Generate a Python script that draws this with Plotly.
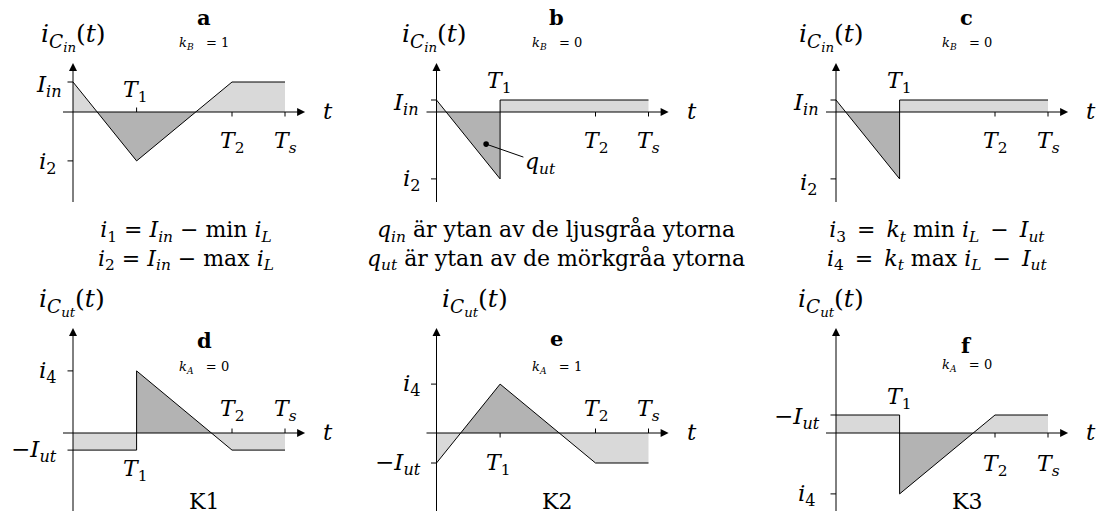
import plotly.graph_objects as go

# Switching instants, as fractions of the switching period Ts
T1, T2, TS = 0.30, 0.75, 1.00

# Input capacitor current i_Cin(t) for the three converter cases
a_t = [0, T1, T2, TS]
a_i = [1.00, -1.63, 1.00, 1.00]
b_t = [0, T1, T1, TS]
b_i = [0.40, -2.23, 0.40, 0.40]
c_t = [0, T1, T1, TS]
c_i = [0.40, -2.23, 0.40, 0.40]

# Output capacitor current i_Cut(t) for the three converter cases
d_t = [0, T1, T1, T2, TS]
d_i = [-0.57, -0.57, 2.07, -0.57, -0.57]
e_t = [0, T1, T2, TS]
e_i = [-1.00, 1.63, -1.00, -1.00]
f_t = [0, T1, T1, T2, TS]
f_i = [0.60, 0.60, -2.03, 0.60, 0.60]

# Figure geometry
W, H = 1101, 525
PX_T = 212.0          # pixels per switching period
PX_I = 30.0           # pixels per current unit
LIGHT = "#d9d9d9"
DARK = "#b3b3b3"
INK = "black"
SERIF = "DejaVu Serif"
FS = 22               # main text size

TOP_ROW = dict(oy=112, box_y=(0, 215), ax_lo=-3.0, ax_hi=1.63)
BOT_ROW = dict(oy=433, box_y=(215, 525), ax_lo=-2.6, ax_hi=3.5)
COLS = [dict(ox=73, box_x=(0, 367)), dict(ox=436.5, box_x=(367, 734)),
        dict(ox=836, box_x=(734, 1101))]
NB = "\u00a0"
EN = "\u2002"


def it(s):
    return "<i>" + s + "</i>"


def sub(s):
    return "<sub>" + s + "</sub>"


def lowered(s, scale, shift):
    return ('<span style="font-size:%d%%;baseline-shift:-%.2fem">%s</span>'
            % (scale, shift, s))


def cap_current(which):
    inner = lowered(it(which), 72, 0.32)
    return it("i") + lowered(it("C") + inner, 74, 0.30) + "(" + it("t") + ")"


Y_IN = cap_current("in")
Y_UT = cap_current("ut")
I_IN = it("I") + sub(it("in"))
MI_UT = "\u2212" + it("I") + sub(it("ut"))
I2 = it("i") + sub("2")
I4 = it("i") + sub("4")
T1L = it("T") + sub("1")
T2L = it("T") + sub("2")
TSL = it("T") + sub(it("s"))


def kcase(letter, val):
    return it("k") + sub(it(letter)) + NB * 3 + "=" + NB + val


# levels: (label, value, xshift, yshift); ticks: (t, direction)
# time labels: (label, t, xshift, yshift)
panels = [
    dict(t=a_t, i=a_i, row=TOP_ROW, col=COLS[0], pos=LIGHT, neg=DARK,
         title="a", k=kcase("B", "1"), tx=0.62,
         ty=(46, 20), ylab=Y_IN, ylab_dx=0,
         levels=[(I_IN, a_i[0], -9, -4), (I2, a_i[1], -14, -2)],
         ticks=[(T1, 1), (T2, -1), (TS, -1)],
         tlabels=[(T1L, T1, -2, 21), (T2L, T2, 0, -30), (TSL, TS, 0, -30)],
         klab=None),
    dict(t=b_t, i=b_i, row=TOP_ROW, col=COLS[1], pos=LIGHT, neg=DARK,
         title="b", k=kcase("B", "0"), tx=0.567,
         ty=(46, 20), ylab=Y_IN, ylab_dx=-2,
         levels=[(I_IN, b_i[0], -16, -4), (I2, b_i[1], -14, -1)],
         ticks=[(T2, -1), (TS, -1)],
         tlabels=[(T1L, T1, -1, 30), (T2L, T2, 0, -30), (TSL, TS, 0, -30)],
         klab=None),
    dict(t=c_t, i=c_i, row=TOP_ROW, col=COLS[2], pos=LIGHT, neg=DARK,
         title="c", k=kcase("B", "0"), tx=0.617,
         ty=(46, 20), ylab=Y_IN, ylab_dx=-5,
         levels=[(I_IN, c_i[0], -15, -4), (I2, c_i[1], -16, -5)],
         ticks=[(T2, -1), (TS, -1)],
         tlabels=[(T1L, T1, -1, 30), (T2L, T2, 0, -30), (TSL, TS, 0, -30)],
         klab=None),
    dict(t=d_t, i=d_i, row=BOT_ROW, col=COLS[0], pos=DARK, neg=LIGHT,
         title="d", k=kcase("A", "0"), tx=0.618,
         ty=(-12, -39), ylab=Y_UT, ylab_dx=-1,
         levels=[(I4, d_i[2], -14, -1), (MI_UT, d_i[0], -14, -1)],
         ticks=[(T2, 1), (TS, 1)],
         tlabels=[(T1L, T1, -2, -37), (T2L, T2, 0, 23), (TSL, TS, 0, 23)],
         klab="K1"),
    dict(t=e_t, i=e_i, row=BOT_ROW, col=COLS[1], pos=DARK, neg=LIGHT,
         title="e", k=kcase("A", "1"), tx=0.567,
         ty=(-10, -39), ylab=Y_UT, ylab_dx=38,
         levels=[(I4, e_i[1], -14, -1), (MI_UT, e_i[0], -14, -1)],
         ticks=[(T1, -1), (T2, 1), (TS, 1)],
         tlabels=[(T1L, T1, -2, -31), (T2L, T2, 0, 23), (TSL, TS, 0, 23)],
         klab="K2"),
    dict(t=f_t, i=f_i, row=BOT_ROW, col=COLS[2], pos=LIGHT, neg=DARK,
         title="f", k=kcase("A", "0"), tx=0.617,
         ty=(-17, -37), ylab=Y_UT, ylab_dx=-5,
         levels=[(MI_UT, f_i[0], -14, -3), (I4, f_i[2], -18, -1)],
         ticks=[(T2, -1), (TS, -1)],
         tlabels=[(T1L, T1, -1, 35), (T2L, T2, 0, -32), (TSL, TS, 0, -32)],
         klab="K3"),
]


def with_crossings(ts, vs):
    """Insert the zero crossings so the area can be split by sign."""
    pts = []
    for k in range(len(ts)):
        if k > 0:
            t0, v0, t1, v1 = ts[k - 1], vs[k - 1], ts[k], vs[k]
            if v0 * v1 < 0:
                pts.append((t0 + (t1 - t0) * v0 / (v0 - v1), 0.0))
        pts.append((ts[k], vs[k]))
    return pts


fig = go.Figure()
annotations = []
layout = {}
T_TIP = 1.095
T_TAIL = -10 / PX_T

for n, p in enumerate(panels, start=1):
    sfx = "" if n == 1 else str(n)
    xr, yr = "x" + sfx, "y" + sfx
    ox, (bx0, bx1) = p["col"]["ox"], p["col"]["box_x"]
    oy, (by0, by1) = p["row"]["oy"], p["row"]["box_y"]
    layout["xaxis" + sfx] = dict(
        domain=[bx0 / W, bx1 / W], anchor=yr, visible=False, fixedrange=True,
        range=[(bx0 - ox) / PX_T, (bx1 - ox) / PX_T])
    layout["yaxis" + sfx] = dict(
        domain=[1 - by1 / H, 1 - by0 / H], anchor=xr, visible=False,
        fixedrange=True, range=[(oy - by1) / PX_I, (oy - by0) / PX_I])
    common = dict(hoverinfo="skip", showlegend=False, xaxis=xr, yaxis=yr)

    # shaded charge areas
    pts = with_crossings(p["t"], p["i"])
    xs = [q[0] for q in pts]
    for sign, color in ((1, p["pos"]), (-1, p["neg"])):
        ys = [max(q[1], 0) if sign > 0 else min(q[1], 0) for q in pts]
        fig.add_trace(go.Scatter(x=xs, y=ys, mode="lines", fill="tozeroy",
                                 fillcolor=color, line=dict(width=0),
                                 **common))

    lo, hi = p["row"]["ax_lo"], p["row"]["ax_hi"]
    # coordinate axes with arrow heads
    fig.add_trace(go.Scatter(x=[T_TAIL, T_TIP - 3 / PX_T, None, 0, 0],
                             y=[0, 0, None, lo, hi - 3 / PX_I], mode="lines",
                             line=dict(color=INK, width=1), **common))
    fig.add_trace(go.Scatter(x=[T_TIP, 0], y=[0, hi], mode="markers",
                             marker=dict(symbol=["arrow-right", "arrow-up"],
                                         size=8, color=INK,
                                         line=dict(width=0)),
                             **common))

    # tick marks on the axes
    tx_, ty_ = [], []
    for tv, d in p["ticks"]:
        tx_ += [tv, tv, None]
        ty_ += [0, d * 4.5 / PX_I, None]
    for _, lv, _, _ in p["levels"]:
        tx_ += [-5.5 / PX_T, 0, None]
        ty_ += [lv, lv, None]
    fig.add_trace(go.Scatter(x=tx_, y=ty_, mode="lines",
                             line=dict(color=INK, width=1), **common))

    # current waveform
    fig.add_trace(go.Scatter(x=p["t"], y=p["i"], mode="lines",
                             line=dict(color=INK, width=1), **common))

    def label(text, x, y, xs=0, ys=0, size=FS, xa="center", ya="middle"):
        annotations.append(dict(xref=xr, yref=yr, x=x, y=y, text=text,
                                showarrow=False, xshift=xs, yshift=ys,
                                xanchor=xa, yanchor=ya,
                                font=dict(family=SERIF, size=size, color=INK)))

    label(it("t"), T_TIP, 0, xs=23, ys=1, size=23)
    label(p["ylab"], 0, hi, xs=p["ylab_dx"], ys=26, size=25)
    label("<b>" + p["title"] + "</b>", p["tx"], hi, ys=p["ty"][0], size=21)
    label(p["k"], p["tx"], hi, ys=p["ty"][1], size=13)
    for text, lv, xs, ys in p["levels"]:
        label(text, 0, lv, xs=xs, ys=ys, xa="right", size=23)
    for text, tv, xs, ys in p["tlabels"]:
        label(text, tv, 0, xs=xs, ys=ys)
    if p["klab"]:
        label(p["klab"], p["tx"], lo, ys=10)

# q_ut callout in panel b
annotations.append(dict(xref="x2", yref="y2", axref="x2", ayref="y2",
                        x=0.234, y=-1.07, ax=0.49, ay=-1.70,
                        text=it("q") + sub(it("ut")), showarrow=True,
                        arrowhead=6, arrowsize=1.4, arrowwidth=1,
                        arrowcolor=INK, startstandoff=0,
                        font=dict(family=SERIF, size=FS, color=INK)))

# explanatory formulas between the rows
IL = it("i") + sub(it("L"))
IUT = it("I") + sub(it("ut"))
KT = it("k") + sub(it("t"))
formulas = [
    (186, [it("i") + sub("1") + " = " + I_IN + " \u2212 min " + IL,
           it("i") + sub("2") + " = " + I_IN + " \u2212 max " + IL]),
    (556, [it("q") + sub(it("in")) + " är ytan av de ljusgråa ytorna",
           it("q") + sub(it("ut")) + " är ytan av de mörkgråa ytorna"]),
    (937, [it("i") + sub("3") + EN + "=" + EN + KT + " min " + IL + EN
           + "\u2212" + EN + IUT,
           it("i") + sub("4") + EN + "=" + EN + KT + " max " + IL + EN
           + "\u2212" + EN + IUT]),
]
for cx, lines in formulas:
    annotations.append(dict(xref="paper", yref="paper", x=cx / W,
                            y=1 - 245 / H, text="<br>".join(lines),
                            showarrow=False, xanchor="center",
                            yanchor="middle", align="center",
                            font=dict(family=SERIF, size=FS, color=INK)))

fig.update_layout(width=W, height=H, margin=dict(l=0, r=0, t=0, b=0),
                  paper_bgcolor="white", plot_bgcolor="white",
                  showlegend=False, annotations=annotations, **layout)
fig.write_html("out.html", config={"displayModeBar": False})
